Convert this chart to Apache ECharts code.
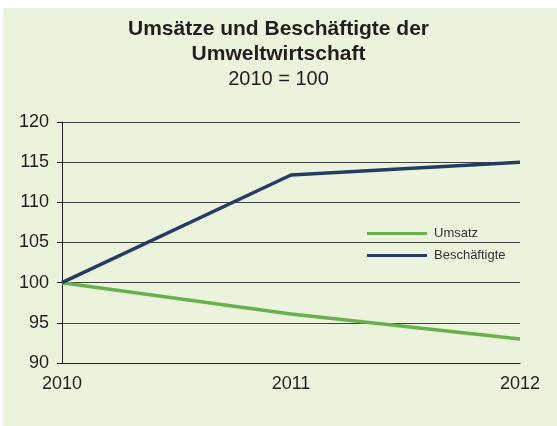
<!DOCTYPE html>
<html>
<head>
<meta charset="utf-8">
<script src="https://cdn.jsdelivr.net/npm/echarts@6/dist/echarts.min.js"></script>
<style>
  html, body { margin: 0; padding: 0; background: #fff; }
  #frame { position: absolute; left: 3px; top: 8px; width: 554px; height: 418px; background: #ebf3dc; }
  #chart { position: absolute; left: 0; top: 0; width: 557px; height: 426px; }
</style>
</head>
<body>
<div id="frame"></div>
<div id="chart"></div>
<script>
// Jahre und Indexwerte (2010 = 100)
var years = ['2010', '2011', '2012']
var umsatz = [100, 96.1, 93.0]
var beschaeftigte = [100, 113.4, 115.0]
var seriesNames = ['Umsatz', 'Beschäftigte']

var chart = echarts.init(document.getElementById('chart'))
var font = '"Liberation Sans", Arial, sans-serif'

var option = {
  backgroundColor: 'transparent',
  title: [{
    text: 'Umsätze und Beschäftigte der\nUmweltwirtschaft',
    left: 'center',
    top: 12,
    textStyle: { fontFamily: font, fontSize: 21, fontWeight: 'bold', color: '#231f20', lineHeight: 25 }
  }, {
    text: '2010 = 100',
    left: 'center',
    top: 64,
    textStyle: { fontFamily: font, fontSize: 20, fontWeight: 'normal', color: '#231f20' }
  }],
  legend: {
    orient: 'vertical',
    left: 362,
    top: 222,
    itemWidth: 60,
    itemHeight: 3,
    itemGap: 9,
    icon: 'rect',
    textStyle: { fontFamily: font, fontSize: 13, color: '#333', padding: [0, 0, 0, 2] },
    data: seriesNames
  },
  grid: { left: 62, right: 37, top: 122, bottom: 63 },
  xAxis: {
    type: 'category',
    boundaryGap: false,
    data: years,
    axisLine: { lineStyle: { color: '#231f20', width: 1 } },
    axisTick: { show: false },
    axisLabel: { fontFamily: font, fontSize: 18, color: '#231f20', margin: 12 }
  },
  yAxis: {
    type: 'value',
    min: 90,
    max: 120,
    interval: 5,
    axisLine: { show: true, lineStyle: { color: '#231f20', width: 1 } },
    axisTick: { show: true, length: 5, lineStyle: { color: '#231f20' } },
    axisLabel: { fontFamily: font, fontSize: 18, color: '#231f20', margin: 13 },
    splitLine: { lineStyle: { color: '#444', width: 1 } }
  },
  series: [{
    name: seriesNames[0],
    type: 'line',
    data: umsatz,
    symbol: 'none',
    lineStyle: { color: '#6ab04f', width: 3.5 },
    itemStyle: { color: '#6ab04f' }
  }, {
    name: seriesNames[1],
    type: 'line',
    data: beschaeftigte,
    symbol: 'none',
    lineStyle: { color: '#253d61', width: 3.5 },
    itemStyle: { color: '#253d61' }
  }]
}

chart.setOption(option)
</script>
</body>
</html>
